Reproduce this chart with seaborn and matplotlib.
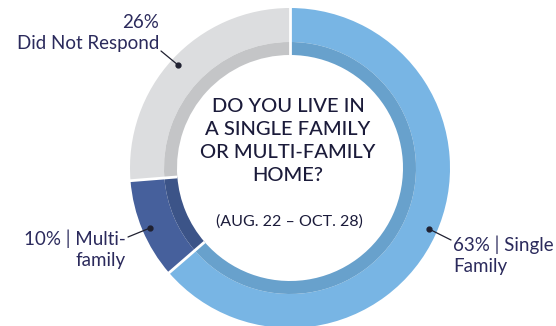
import matplotlib
matplotlib.use("Agg")
import matplotlib.pyplot as plt
import numpy as np
import seaborn as sns

sns.set_theme(style="white")
plt.rcParams["font.family"] = ["Lato", "DejaVu Sans"]

# Survey responses
categories = ["Single Family", "Multi-family", "Did Not Respond"]
shares = [63, 10, 26]
outer_colors = ["#78b5e4", "#46609c", "#dcdddf"]
inner_colors = ["#68a1cc", "#3c5488", "#c4c5c7"]
labels = ["63% | Single\nFamily", "10% | Multi-\nfamily", "26%\nDid Not Respond"]

W, H = 556, 326
fig = plt.figure(figsize=(W / 100, H / 100), dpi=100)
ax = fig.add_axes([0, 0, 1, 1])

cx, cy = 290, H - 168
r_out, r_mid, r_in = 160, 126, 113

# Outer light band
ax.pie(shares, colors=outer_colors, startangle=90, counterclock=False,
       center=(cx, cy), radius=r_out, frame=True,
       wedgeprops=dict(width=r_out - r_mid, edgecolor="none"))
# Inner darker band
ax.pie(shares, colors=inner_colors, startangle=90, counterclock=False,
       center=(cx, cy), radius=r_mid, frame=True,
       wedgeprops=dict(width=r_mid - r_in, edgecolor="none"))

# White separators between segments
total = sum(shares)
ang = 90.0
for s in shares:
    a = np.deg2rad(ang)
    ax.plot([cx + r_in * np.cos(a), cx + (r_out + 1) * np.cos(a)],
            [cy + r_in * np.sin(a), cy + (r_out + 1) * np.sin(a)],
            color="white", lw=2, solid_capstyle="butt", zorder=5)
    ang -= s / total * 360

ax.set_xlim(0, W)
ax.set_ylim(0, H)
ax.set_aspect("equal")
ax.axis("off")

navy = "#2b2a5c"
dot = "#1f2030"


def px(x, y):
    return x, H - y


# Leader lines and dots
leaders = [
    ((429, 229), (451, 240)),
    ((150, 228), (128, 237)),
    ((178, 65), (161, 51)),
]
for d, e in leaders:
    ax.plot([d[0], e[0]], [H - d[1], H - e[1]], color=dot, lw=0.9, zorder=6)
    ax.plot(d[0], H - d[1], "o", color=dot, ms=3.5, zorder=7)

ax.text(*px(453, 255), labels[0], ha="left", va="center", fontsize=13.5,
        color=navy, linespacing=1.3)
ax.text(*px(126, 249), labels[1], ha="right", va="center", fontsize=13.5,
        color=navy, linespacing=1.3, multialignment="right")
ax.text(*px(159, 33), labels[2], ha="right", va="center", fontsize=13.5,
        color=navy, linespacing=1.3, multialignment="right")

ax.text(*px(288, 141), "DO YOU LIVE IN\nA SINGLE FAMILY\nOR MULTI-FAMILY\nHOME?",
        ha="center", va="center", fontsize=14.5, color="#1b1b3a",
        linespacing=1.45, fontweight="medium")
ax.text(*px(289, 222), "(AUG. 22 \u2013 OCT. 28)", ha="center", va="center",
        fontsize=11.5, color="#1b1b3a")

fig.savefig("out.png", dpi=100)
